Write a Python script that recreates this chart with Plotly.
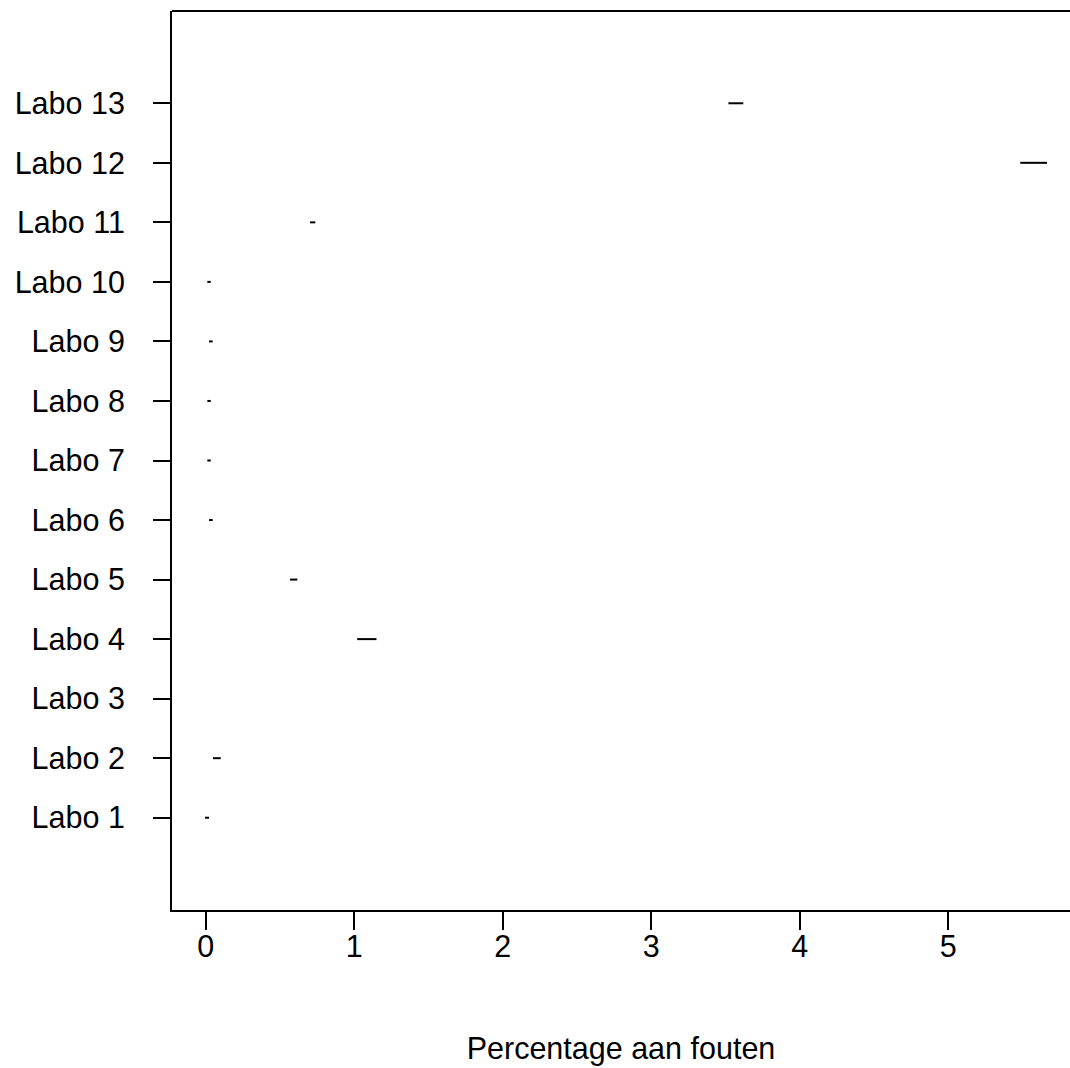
import plotly.graph_objects as go

labs = ["Labo 1", "Labo 2", "Labo 3", "Labo 4", "Labo 5", "Labo 6", "Labo 7",
        "Labo 8", "Labo 9", "Labo 10", "Labo 11", "Labo 12", "Labo 13"]
lo = [-0.005, 0.049, None, 1.02, 0.568, 0.022, 0.011, 0.011, 0.022, 0.011, 0.702, 5.485, 3.52]
hi = [0.022, 0.101, None, 1.15, 0.617, 0.047, 0.034, 0.034, 0.047, 0.034, 0.738, 5.665, 3.62]
xticks = [0, 1, 2, 3, 4, 5]

xs, ys = [], []
for i, (a, b) in enumerate(zip(lo, hi)):
    if a is None:
        continue
    xs += [a, b, None]
    ys += [i + 1, i + 1, None]

fig = go.Figure()
fig.add_trace(go.Scatter(x=xs, y=ys, mode="lines",
                         line=dict(color="black", width=2), showlegend=False,
                         hoverinfo="skip"))

font = dict(family="Liberation Sans, Arial, sans-serif", size=30.5, color="black")
fig.update_layout(
    width=1070, height=1068,
    margin=dict(l=172, r=0, t=11, b=158),
    paper_bgcolor="white", plot_bgcolor="white",
    font=font,
    xaxis=dict(range=[-0.227, 5.82], tickvals=xticks, ticktext=[str(v) for v in xticks],
               showgrid=False, zeroline=False, showline=True, linecolor="black", linewidth=2,
               ticks="outside", ticklen=18, tickwidth=2, tickcolor="black",
               ticklabelstandoff=-10,
               title=dict(text="Percentage aan fouten", standoff=76, font=font)),
    yaxis=dict(range=[-0.55, 14.55], tickvals=list(range(1, 14)), ticktext=labs,
               showgrid=False, zeroline=False, showline=True, linecolor="black", linewidth=2,
               ticks="outside", ticklen=17, tickwidth=2, tickcolor="black",
               ticklabelstandoff=22),
    shapes=[dict(type="line", xref="paper", yref="paper", x0=0, x1=1, y0=1, y1=1,
                 line=dict(color="black", width=2))],
)
fig.write_html("out.html", config={"displayModeBar": False},
               post_script="document.body.style.margin='0';document.body.style.overflow='hidden';")
